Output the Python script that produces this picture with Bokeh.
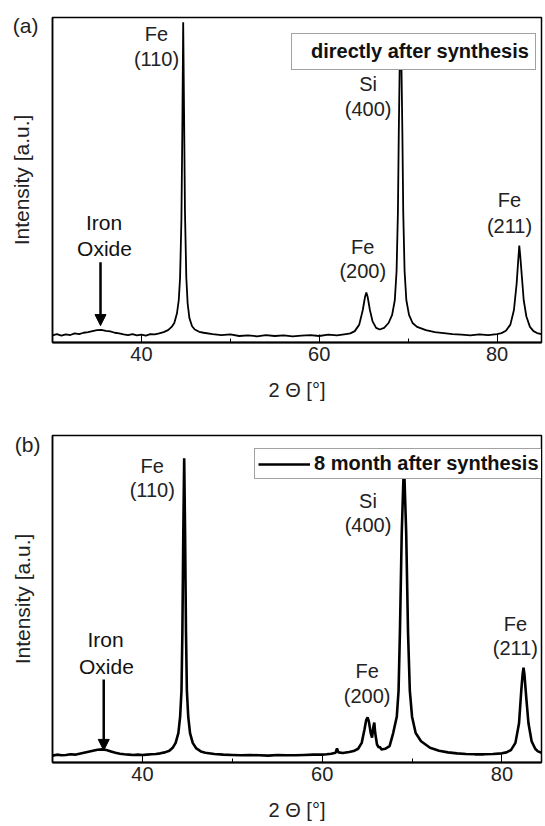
from bokeh.plotting import figure
from bokeh.layouts import column
from bokeh.models import (ColumnDataSource, Range1d, Legend, LegendItem,
                          Arrow, NormalHead, FixedTicker)
from bokeh.core.properties import value
from bokeh.embed import file_html
from bokeh.resources import INLINE

FONT = "Liberation Sans"

# ---------------- data ----------------
# panel (a): directly after synthesis
tth_a = [30.0, 30.5, 31.0, 31.5, 32.0, 32.5, 33.0, 33.5, 34.0, 34.5, 35.0, 35.5, 36.0,
         36.5, 37.0, 37.5, 38.0, 38.5, 39.0, 39.5, 40.0, 40.5, 41.0, 41.5, 42.0, 42.5,
         43.0, 43.4, 43.7, 44.0, 44.2, 44.35, 44.5, 44.6, 44.7, 44.8, 44.9, 45.05, 45.2,
         45.4, 45.7, 46.0, 46.5, 47.0, 48.0, 49.0, 50.0, 51.0, 52.0, 53.0, 54.0, 55.0,
         56.0, 57.0, 58.0, 59.0, 60.0, 61.0, 62.0, 63.0, 63.5, 64.0, 64.5, 64.9, 65.15,
         65.3, 65.45, 65.7, 66.0, 66.4, 66.8, 67.3, 67.8, 68.2, 68.5, 68.7, 68.85, 68.95,
         69.05, 69.15, 69.25, 69.35, 69.45, 69.6, 69.8, 70.1, 70.5, 71.0, 72.0, 73.0,
         74.0, 75.0, 76.0, 77.0, 78.0, 79.0, 80.0, 80.5, 81.0, 81.5, 81.9, 82.2, 82.4,
         82.5, 82.6, 82.8, 83.0, 83.3, 83.7, 84.1, 84.5, 85.0]
int_a = [2.2, 2.6, 2.1, 2.5, 2.3, 2.8, 2.6, 3.0, 3.2, 3.5, 3.8, 3.9, 3.6,
         3.4, 3.0, 2.8, 2.5, 2.3, 2.6, 2.2, 2.4, 2.1, 2.6, 2.5, 2.8, 3.2,
         3.8, 4.8, 6.0, 9.0, 13.0, 20.0, 38.0, 65.0, 98.5, 70.0, 40.0, 20.0, 12.0,
         7.5, 5.0, 4.0, 3.3, 3.0, 2.6, 2.3, 2.5, 2.0, 2.2, 1.9, 2.3, 2.0,
         2.2, 1.9, 2.1, 2.3, 2.0, 2.4, 2.2, 2.6, 2.8, 3.5, 5.5, 10.0, 14.0,
         15.4, 14.0, 10.0, 6.5, 4.5, 4.0, 4.5, 6.0, 8.5, 13.0, 22.0, 40.0, 65.0,
         85.0, 92.0, 85.0, 65.0, 40.0, 22.0, 13.0, 8.5, 6.0, 4.8, 3.8, 3.2,
         2.9, 2.6, 2.4, 2.2, 2.5, 2.3, 2.6, 2.9, 3.6, 5.5, 10.0, 18.0, 26.0,
         29.8, 27.0, 20.0, 13.0, 8.0, 4.8, 3.5, 2.9, 2.6]

# panel (b): 8 month after synthesis
tth_b = [30.0, 30.5, 31.0, 31.5, 32.0, 32.5, 33.0, 33.5, 34.0, 34.5, 35.0, 35.5, 36.0,
         36.5, 37.0, 37.5, 38.0, 38.5, 39.0, 39.5, 40.0, 40.5, 41.0, 41.5, 42.0, 42.5,
         43.0, 43.4, 43.7, 44.0, 44.2, 44.35, 44.45, 44.55, 44.65, 44.75, 44.85, 44.95,
         45.1, 45.3, 45.6, 46.0, 46.5, 47.0, 48.0, 49.0, 50.0, 51.0, 52.0, 53.0, 54.0,
         55.0, 56.0, 57.0, 58.0, 59.0, 60.0, 60.5, 61.0, 61.5, 61.65, 61.8, 62.3, 63.0,
         63.5, 64.0, 64.4, 64.7, 64.9, 65.05, 65.2, 65.4, 65.55, 65.7, 65.8, 65.9, 66.1,
         66.3, 66.4, 66.6, 67.0, 67.5, 67.9, 68.3, 68.5, 68.65, 68.85, 69.1, 69.35,
         69.55, 69.75, 70.0, 70.4, 71.0, 72.0, 73.0, 74.0, 75.0, 76.0, 77.0, 78.0, 79.0,
         80.0, 80.5, 81.0, 81.5, 81.9, 82.15, 82.3, 82.4, 82.5, 82.7, 82.95, 83.3, 83.7,
         84.0, 84.4]
int_b = [2.1, 2.4, 2.2, 2.3, 2.5, 2.4, 2.7, 3.0, 3.3, 3.6, 3.9, 4.0, 3.8,
         3.4, 3.0, 2.7, 2.5, 2.4, 2.3, 2.4, 2.3, 2.4, 2.5, 2.6, 2.8, 3.1,
         3.6, 4.6, 6.0, 9.0, 14.0, 22.0, 40.0, 70.0, 93.0, 70.0, 40.0, 22.0,
         14.0, 9.0, 6.0, 4.3, 3.4, 3.0, 2.6, 2.4, 2.3, 2.2, 2.3, 2.2, 2.1,
         2.3, 2.2, 2.2, 2.3, 2.4, 2.4, 2.5, 2.7, 3.0, 4.3, 3.1, 2.9, 3.2,
         3.5, 4.2, 6.0, 10.0, 13.0, 13.8, 12.5, 9.0, 7.6, 11.0, 12.2, 9.0, 5.5,
         4.6, 4.8, 4.0, 4.2, 5.0, 9.0, 14.0, 22.0, 40.0, 70.0, 92.0, 70.0,
         40.0, 22.0, 14.0, 9.0, 6.5, 4.5, 3.6, 3.1, 2.8, 2.6, 2.5, 2.5, 2.6,
         2.8, 3.1, 3.8, 6.0, 12.0, 22.0, 27.0, 29.0, 27.0, 20.0, 12.0, 6.5, 4.2,
         3.4, 3.0]

x_ticks = [40, 60, 80]
x_minor = [50, 70]

# peak labels (one row per text line)
lab_a_text = ["Fe", "(110)", "Si", "(400)", "Fe", "(200)", "Fe", "(211)"]
lab_a_x = [41.7, 41.7, 65.5, 65.5, 64.9, 64.9, 81.4, 81.4]
lab_a_y = [95.0, 87.1, 79.4, 71.7, 29.3, 21.9, 43.7, 35.8]
ox_a_text = ["Iron", "Oxide"]
ox_a_x = [35.8, 35.85]
ox_a_y = [37.0, 28.9]

lab_b_text = ["Fe", "(110)", "Si", "(400)", "Fe", "(200)", "Fe", "(211)"]
lab_b_x = [41.1, 41.1, 65.1, 65.1, 65.0, 65.0, 81.5, 81.5]
lab_b_y = [90.8, 83.2, 80.1, 72.5, 27.9, 20.2, 42.4, 35.0]
ox_b_text = ["Iron", "Oxide"]
ox_b_x = [35.9, 36.0]
ox_b_y = [37.6, 29.4]

LETTER_Y = 97.4


def make_panel(tth, inten, x_end, legend_text, letter, lab_text, lab_x, lab_y,
               ox_text, ox_x, ox_y, arrow_x, arrow_y0, arrow_y1, letter_standoff,
               ylabel_standoff, border, line_w, legend_loc, legend_pad, glyph_w,
               standoff):
    top, bottom, left, right, height = border
    p = figure(width=545, height=height, x_range=Range1d(30, x_end),
               y_range=Range1d(0, 100), output_backend="svg", toolbar_location=None,
               min_border_top=top, min_border_bottom=bottom,
               min_border_left=left, min_border_right=right)
    p.background_fill_color = "white"
    p.border_fill_color = "white"
    p.outline_line_color = "black"
    p.outline_line_width = 1.5
    p.grid.visible = False

    xa = p.xaxis[0]
    xa.ticker = FixedTicker(ticks=x_ticks, minor_ticks=x_minor)
    xa.major_tick_in = 8
    xa.major_tick_out = 0
    xa.minor_tick_in = 4
    xa.minor_tick_out = 0
    xa.axis_line_width = 2
    xa.major_label_standoff = 4
    xa.major_label_text_font = FONT
    xa.major_label_text_font_size = "20px"
    xa.major_label_text_color = "#222222"
    xa.axis_label = "2 \u0398 [\u00b0]"
    xa.axis_label_text_font = FONT
    xa.axis_label_text_font_size = "20px"
    xa.axis_label_text_font_style = "normal"
    xa.axis_label_text_color = "#222222"
    xa.axis_label_standoff = 15

    # left axis: no ticks; its single tick label carries the panel letter
    ya = p.yaxis[0]
    ya.ticker = FixedTicker(ticks=[LETTER_Y])
    ya.major_label_overrides = {LETTER_Y: letter}
    ya.major_label_orientation = "horizontal"
    ya.major_label_text_font = FONT
    ya.major_label_text_font_size = "21px"
    ya.major_label_text_color = "#222222"
    ya.major_label_standoff = letter_standoff
    ya.major_tick_out = 0
    ya.major_tick_in = 0
    ya.minor_tick_out = 0
    ya.minor_tick_in = 0
    ya.axis_line_width = 1.5
    ya.axis_label = "Intensity [a.u.]"
    ya.axis_label_text_font = FONT
    ya.axis_label_text_font_size = "21px"
    ya.axis_label_text_font_style = "normal"
    ya.axis_label_text_color = "#222222"
    ya.axis_label_standoff = ylabel_standoff

    src = ColumnDataSource(data=dict(x=tth, y=inten))
    r = p.line("x", "y", source=src, line_color="black", line_width=line_w)

    lsrc = ColumnDataSource(data=dict(x=lab_x, y=lab_y, t=lab_text))
    p.text("x", "y", text="t", source=lsrc, text_font=value(FONT),
           text_font_size="20px", text_align="center", text_baseline="middle",
           text_color="#222222")
    osrc = ColumnDataSource(data=dict(x=ox_x, y=ox_y, t=ox_text))
    p.text("x", "y", text="t", source=osrc, text_font=value(FONT),
           text_font_size="21px", text_align="center", text_baseline="middle",
           text_color="#111111")

    p.add_layout(Arrow(end=NormalHead(size=11, fill_color="black", line_color="black"),
                       x_start=arrow_x, y_start=arrow_y0, x_end=arrow_x, y_end=arrow_y1,
                       line_color="black", line_width=2.5))

    leg = Legend(items=[LegendItem(label=legend_text, renderers=[r])],
                 location=legend_loc, padding=legend_pad, spacing=0, margin=0,
                 glyph_width=glyph_w, glyph_height=20, label_standoff=standoff,
                 label_height=23, label_text_font=FONT, label_text_font_size="20px",
                 label_text_font_style="bold", label_text_color="#111111",
                 border_line_color="#444444", border_line_width=1.2,
                 background_fill_color="white", background_fill_alpha=1.0)
    p.add_layout(leg, "center")
    return p


pa = make_panel(tth_a, int_a, 85.0, "directly after synthesis", "(a)",
                lab_a_text, lab_a_x, lab_a_y, ox_a_text, ox_a_x, ox_a_y,
                35.4, 24.7, 5.2, 14, -23, (17, 71, 52, 4, 413), 1.8,
                (239, 272), 6, 0, 13)
pb = make_panel(tth_b, int_b, 84.4, "8 month after synthesis", "(b)",
                lab_b_text, lab_b_x, lab_b_y, ox_b_text, ox_b_x, ox_b_y,
                35.7, 25.4, 3.7, 12, -22, (22, 64, 50, 0, 413), 2.6,
                (202, 283), 3, 52, 4)

layout = column(pa, pb, spacing=0)
open("out.html", "w").write(file_html(layout, INLINE))
